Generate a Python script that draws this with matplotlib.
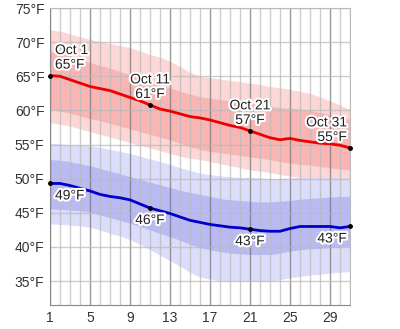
import matplotlib
matplotlib.use("Agg")
import matplotlib.pyplot as plt
import matplotlib.patheffects as pe
import numpy as np

plt.rcParams['font.family'] = ['Liberation Sans', 'DejaVu Sans']

days = list(range(1, 32))

high_mean = [65.1, 65.0, 64.5, 64.0, 63.5, 63.2, 62.9, 62.4, 61.9, 61.4, 60.8, 60.2, 59.9, 59.5, 59.1, 58.9,
             58.6, 58.2, 57.8, 57.5, 57.0, 56.5, 56.0, 55.7, 55.9, 55.6, 55.4, 55.2, 55.1, 54.9, 54.5]
high_p90 = [71.8, 71.6, 71.2, 70.8, 70.4, 70.1, 69.8, 69.5, 69.2, 68.7, 68.2, 67.8, 67.2, 66.4, 65.6, 65.0,
            64.8, 64.6, 64.4, 64.2, 64.0, 63.8, 63.5, 63.3, 63.1, 62.8, 62.5, 62.0, 61.4, 60.8, 60.1]
high_p75 = [68.6, 68.4, 68.0, 67.5, 67.0, 66.6, 66.2, 65.7, 65.2, 64.7, 64.2, 63.7, 63.3, 62.8, 62.4, 62.0,
            61.8, 61.6, 61.4, 61.2, 61.0, 60.8, 60.6, 60.4, 60.3, 60.2, 60.0, 59.7, 59.4, 59.0, 58.7]
high_p25 = [60.1, 59.9, 59.6, 59.2, 58.8, 58.5, 58.1, 57.7, 57.3, 56.9, 56.5, 56.1, 55.7, 55.2, 54.7, 54.3,
            54.0, 53.8, 53.6, 53.4, 53.2, 53.0, 52.8, 52.5, 52.3, 52.1, 52.0, 51.8, 51.6, 51.4, 51.3]
high_p10 = [58.2, 58.0, 57.7, 57.3, 56.9, 56.5, 56.1, 55.7, 55.3, 54.9, 54.5, 54.1, 53.7, 53.3, 53.0, 52.8,
            52.5, 52.2, 51.9, 51.6, 51.3, 51.1, 50.9, 50.6, 50.4, 50.2, 50.0, 49.9, 49.8, 49.7, 49.6]

low_mean = [49.3, 49.3, 49.0, 48.6, 48.2, 47.7, 47.4, 47.2, 46.9, 46.3, 45.7, 45.3, 44.9, 44.4, 43.9, 43.6,
            43.3, 43.1, 42.9, 42.8, 42.6, 42.4, 42.3, 42.3, 42.7, 43.0, 43.0, 43.0, 43.0, 42.8, 43.0]
low_p90 = [55.2, 55.1, 55.0, 54.9, 54.8, 54.6, 54.3, 54.0, 53.7, 53.3, 52.9, 52.5, 52.1, 51.6, 51.2, 50.8,
           50.6, 50.4, 50.3, 50.2, 50.2, 50.1, 50.0, 50.0, 50.1, 50.2, 50.2, 50.2, 50.1, 50.1, 50.1]
low_p75 = [52.8, 52.7, 52.5, 52.2, 51.9, 51.5, 51.1, 50.7, 50.3, 49.9, 49.5, 49.1, 48.7, 48.3, 48.0, 47.7,
           47.4, 47.1, 46.9, 46.8, 46.7, 46.6, 46.6, 46.7, 46.8, 47.0, 47.1, 47.2, 47.3, 47.4, 47.4]
low_p25 = [45.6, 45.5, 45.4, 45.3, 45.1, 44.7, 44.3, 43.9, 43.5, 43.0, 42.5, 42.0, 41.5, 41.0, 40.4, 39.9,
           39.6, 39.3, 39.1, 39.0, 38.9, 38.9, 38.9, 39.1, 39.4, 39.6, 39.7, 39.8, 39.9, 40.0, 40.1]
low_p10 = [43.4, 43.3, 43.2, 43.1, 42.9, 42.5, 42.0, 41.6, 41.1, 40.4, 39.6, 38.8, 38.0, 37.2, 36.3, 35.6,
           35.3, 35.1, 35.0, 35.0, 35.0, 35.0, 35.0, 35.2, 35.5, 35.7, 35.9, 36.0, 36.2, 36.3, 36.4]

x_ticks = [1, 5, 9, 13, 17, 21, 25, 29]
y_ticks = [35, 40, 45, 50, 55, 60, 65, 70, 75]
y_tick_labels = ["35°F", "40°F", "45°F", "50°F", "55°F", "60°F", "65°F", "70°F", "75°F"]

mark_days = [1, 11, 21, 31]
high_labels = ["Oct 1\n65°F", "Oct 11\n61°F", "Oct 21\n57°F", "Oct 31\n55°F"]
low_labels = ["49°F", "46°F", "43°F", "43°F"]

fig = plt.figure(figsize=(4.0, 3.29), dpi=100)
ax = fig.add_axes([50/400, 1 - 305/329, 300/400, 297/329])

ax.set_xlim(1, 31)
ax.set_ylim(31.5, 75)

# bands
ax.fill_between(days, high_p10, high_p90, color='#fdd6d6', lw=0, zorder=1)
ax.fill_between(days, high_p25, high_p75, color='#f9b4b4', lw=0, zorder=1.1)
ax.fill_between(days, low_p10, low_p90, color='#dcdcfb', lw=0, zorder=1.2)
ax.fill_between(days, low_p25, low_p75, color='#b9b9f4', lw=0, zorder=1.3)

# grid over bands
for d in days:
    major = (d - 1) % 4 == 0
    ax.axvline(d, color='#777777' if major else '#bbbbbb', lw=1.0, alpha=0.75, zorder=2)
for yv in y_ticks:
    ax.axhline(yv, color='#bbbbbb', lw=1.0, alpha=0.75, zorder=2)

ax.plot(days, high_mean, color='#ee0000', lw=2, zorder=3)
ax.plot(days, low_mean, color='#0000cc', lw=2, zorder=3)

halo = [pe.withStroke(linewidth=3, foreground='white')]
for i, d in enumerate(mark_days):
    hv = high_mean[d - 1]
    lv = low_mean[d - 1]
    ax.plot([d], [hv], 'o', color='black', ms=2.5, zorder=4, clip_on=False)
    ax.plot([d], [lv], 'o', color='black', ms=2.5, zorder=4, clip_on=False)
    if i == 0:
        ha, dx = 'left', 5
    elif i == len(mark_days) - 1:
        ha, dx = 'right', -3
    else:
        ha, dx = 'center', 0
    ax.annotate(high_labels[i], (d, hv), xytext=(dx, 4), textcoords='offset pixels',
                ha=ha, va='bottom', fontsize=10, color='#222222', linespacing=1.05,
                path_effects=halo, zorder=5)
    ax.annotate(low_labels[i], (d, lv), xytext=(dx, -5), textcoords='offset pixels',
                ha=ha, va='top', fontsize=10, color='#222222',
                path_effects=halo, zorder=5)

ax.set_xticks(x_ticks)
ax.set_xticklabels([str(t) for t in x_ticks])
ax.set_yticks(y_ticks)
ax.set_yticklabels(y_tick_labels)
ax.tick_params(length=0, labelsize=10, colors='#333333', pad=4)

for s in ['top', 'right']:
    ax.spines[s].set_color('#bbbbbb')
for s in ['left', 'bottom']:
    ax.spines[s].set_color('#888888')

fig.savefig('out.png', dpi=100)
